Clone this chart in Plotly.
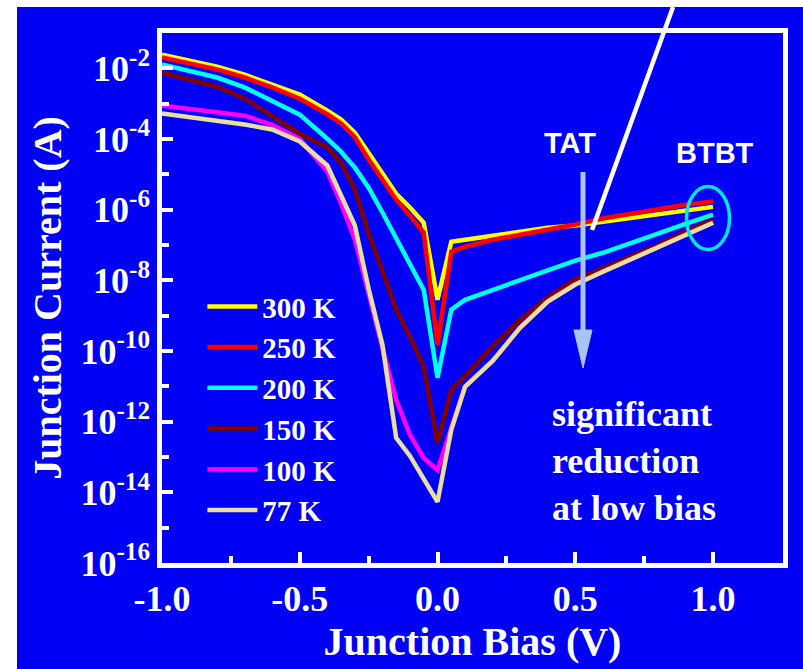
import plotly.graph_objects as go

# ---------------- data ----------------
bias = [-1.0, -0.9, -0.8, -0.7, -0.6, -0.5, -0.4, -0.35, -0.3, -0.25, -0.2, -0.15, -0.1, -0.05,
        0.0, 0.05, 0.1, 0.2, 0.3, 0.4, 0.5, 0.6, 0.7, 0.8, 0.9, 1.0]

I_300K = [2.45e-2, 1.66e-2, 1.12e-2, 6.61e-3, 3.47e-3, 1.82e-3, 6.31e-4, 3.55e-4, 1.51e-4, 3.89e-5,
          1.12e-5, 2.82e-6, 1.15e-6, 4.27e-7, 2.82e-9, 1.23e-7, 1.41e-7, 1.82e-7, 2.51e-7, 3.09e-7,
          3.55e-7, 4.57e-7, 5.89e-7, 7.76e-7, 1.0e-6, 1.20e-6]
I_250K = [2.04e-2, 1.38e-2, 9.33e-3, 5.50e-3, 2.88e-3, 1.38e-3, 5.01e-4, 2.75e-4, 1.12e-4, 2.63e-5,
          7.08e-6, 1.91e-6, 6.76e-7, 2.24e-7, 1.51e-10, 6.46e-8, 8.91e-8, 1.41e-7, 1.95e-7, 2.69e-7,
          3.80e-7, 5.62e-7, 7.76e-7, 1.07e-6, 1.38e-6, 1.70e-6]
I_200K = [1.29e-2, 8.71e-3, 5.50e-3, 2.88e-3, 1.23e-3, 4.90e-4, 1.02e-4, 4.37e-5, 1.55e-5, 4.17e-6,
          8.32e-7, 1.51e-7, 2.75e-8, 5.37e-9, 1.74e-11, 1.48e-9, 2.82e-9, 5.37e-9, 9.77e-9, 1.86e-8,
          3.63e-8, 6.03e-8, 1.10e-7, 2.09e-7, 3.98e-7, 7.24e-7]
I_150K = [7.59e-3, 4.79e-3, 3.02e-3, 1.38e-3, 4.57e-4, 1.41e-4, 5.75e-5, 2.14e-5, 3.72e-6, 2.09e-7,
          1.86e-8, 1.48e-9, 2.51e-10, 3.55e-11, 2.51e-13, 7.94e-12, 2.0e-11, 1.32e-10, 7.59e-10, 3.24e-9,
          1.07e-8, 2.14e-8, 4.68e-8, 1.0e-7, 2.40e-7, 5.25e-7]
I_100K = [8.91e-4, 7.24e-4, 6.03e-4, 4.57e-4, 2.51e-4, 1.0e-4, 1.20e-5, 1.48e-6, 1.41e-7, 3.89e-9,
          1.23e-10, 4.17e-12, 4.27e-13, 9.33e-14, 4.27e-14, 6.61e-13, 9.77e-12, 5.25e-11, 4.57e-10, 2.51e-9,
          7.59e-9, 1.74e-8, 3.80e-8, 8.32e-8, 1.95e-7, 4.27e-7]
I_77K = [5.25e-4, 4.07e-4, 3.39e-4, 2.57e-4, 1.86e-4, 8.51e-5, 1.78e-5, 2.63e-6, 3.55e-7, 5.75e-9,
         1.51e-10, 3.47e-13, 1.07e-13, 2.40e-14, 5.37e-15, 5.89e-13, 9.77e-12, 5.25e-11, 4.57e-10, 2.51e-9,
         7.59e-9, 1.74e-8, 3.80e-8, 8.32e-8, 1.95e-7, 4.27e-7]

series_names = ["300 K", "250 K", "200 K", "150 K", "100 K", "77 K"]
series_values = [I_300K, I_250K, I_200K, I_150K, I_100K, I_77K]
series_colors = ["#FFFF00", "#FF0000", "#00FFFF", "#800000", "#FF00FF", "#E8DFA0"]

x_tick_vals = [-1.0, -0.5, 0.0, 0.5, 1.0]
x_tick_text = ["-1.0", "-0.5", "0.0", "0.5", "1.0"]
x_minor_vals = [-0.75, -0.25, 0.25, 0.75]
y_tick_vals = [1e-16, 1e-14, 1e-12, 1e-10, 1e-8, 1e-6, 1e-4, 1e-2]
y_tick_text = ["10<sup>-16</sup>", "10<sup>-14</sup>", "10<sup>-12</sup>", "10<sup>-10</sup>",
               "10<sup>-8</sup>", "10<sup>-6</sup>", "10<sup>-4</sup>", "10<sup>-2</sup>"]
y_minor_vals = [1e-15, 1e-13, 1e-11, 1e-9, 1e-7, 1e-5, 1e-3]

# ---------------- figure ----------------
BLUE = "#0000F5"
SERIF = "Liberation Serif, serif"
SANS = "Liberation Sans, sans-serif"

fig = go.Figure()
for name, vals, col in zip(series_names, series_values, series_colors):
    fig.add_trace(go.Scatter(x=bias, y=vals, mode="lines", name=name,
                             line=dict(color=col, width=4.5)))

# paper-coordinate helpers (plot area: x 162..783 px, y 33..563 px)
L, R, T, B = 162, 20, 33, 106
W, H = 803, 669
PW, PH = W - L - R, H - T - B


def px(xp):
    return (xp - L) / PW


def py(yp):
    return (H - B - yp) / PH


shapes = [
    # blue page background (white strip on top and left)
    dict(type="rect", xref="paper", yref="paper", x0=px(17), x1=px(W + 5), y0=py(H + 5), y1=py(7),
         fillcolor=BLUE, line=dict(width=0), layer="below"),
    # pointer line
    dict(type="line", xref="paper", yref="paper", x0=px(592), y0=py(230), x1=px(673), y1=py(7),
         line=dict(color="white", width=4.5)),
    # arrow shaft
    dict(type="line", xref="paper", yref="paper", x0=px(583), y0=py(172), x1=px(583), y1=py(335),
         line=dict(color="#A8C4F0", width=5)),
    # arrow head
    dict(type="path", xref="paper", yref="paper",
         path=f"M {px(574)},{py(330)} L {px(592)},{py(330)} L {px(583)},{py(368)} Z",
         fillcolor="#A8C4F0", line=dict(color="#A8C4F0", width=1)),
    # BTBT ellipse
    dict(type="circle", xref="paper", yref="paper", x0=px(686.5), x1=px(729.5), y0=py(249.5), y1=py(186.5),
         line=dict(color="#00E5F0", width=3.5)),
]

annotations = [
    dict(text="TAT", x=px(570), y=py(143), xref="paper", yref="paper", showarrow=False,
         xanchor="center", yanchor="middle",
         font=dict(family=SANS, size=29, color="white", weight="bold")),
    dict(text="BTBT", x=px(715), y=py(153), xref="paper", yref="paper", showarrow=False,
         xanchor="center", yanchor="middle",
         font=dict(family=SANS, size=29, color="white", weight="bold")),
    dict(text="significant<br>reduction<br>at low bias", x=px(550), y=py(461), xref="paper", yref="paper",
         showarrow=False, xanchor="left", yanchor="middle", align="left",
         font=dict(family=SERIF, size=36, color="white", weight="bold")),
]

fig.update_layout(
    width=W, height=H, autosize=False,
    margin=dict(l=L, r=R, t=T, b=B),
    paper_bgcolor="white", plot_bgcolor=BLUE,
    shapes=shapes, annotations=annotations,
    showlegend=True,
    legend=dict(x=0.065, y=0.532, xanchor="left", yanchor="top", bgcolor="rgba(0,0,0,0)",
                font=dict(family=SERIF, size=29, color="white", weight="bold"),
                itemwidth=50, tracegroupgap=0),
    xaxis=dict(range=[-1.0, 1.254], tickvals=x_tick_vals, ticktext=x_tick_text,
               ticks="inside", ticklen=11, tickwidth=4, tickcolor="white",
               minor=dict(tickvals=x_minor_vals, ticks="inside", ticklen=7, tickwidth=4, tickcolor="white"),
               showline=True, linewidth=4.5, linecolor="white", mirror=True,
               showgrid=False, zeroline=False,
               tickfont=dict(family=SERIF, size=36, color="white", weight="bold"),
               title=dict(text="Junction Bias (V)", standoff=6,
                          font=dict(family=SERIF, size=40, color="white", weight="bold"))),
    yaxis=dict(type="log", range=[-16, -1], tickvals=y_tick_vals, ticktext=y_tick_text,
               ticks="inside", ticklen=11, tickwidth=4, tickcolor="white",
               minor=dict(tickvals=y_minor_vals, ticks="inside", ticklen=7, tickwidth=4, tickcolor="white"),
               showline=True, linewidth=4.5, linecolor="white", mirror=True,
               showgrid=False, zeroline=False,
               tickfont=dict(family=SERIF, size=36, color="white", weight="bold"),
               title=dict(text="Junction Current (A)", standoff=8,
                          font=dict(family=SERIF, size=40, color="white", weight="bold"))),
)

fig.write_html("out.html")
